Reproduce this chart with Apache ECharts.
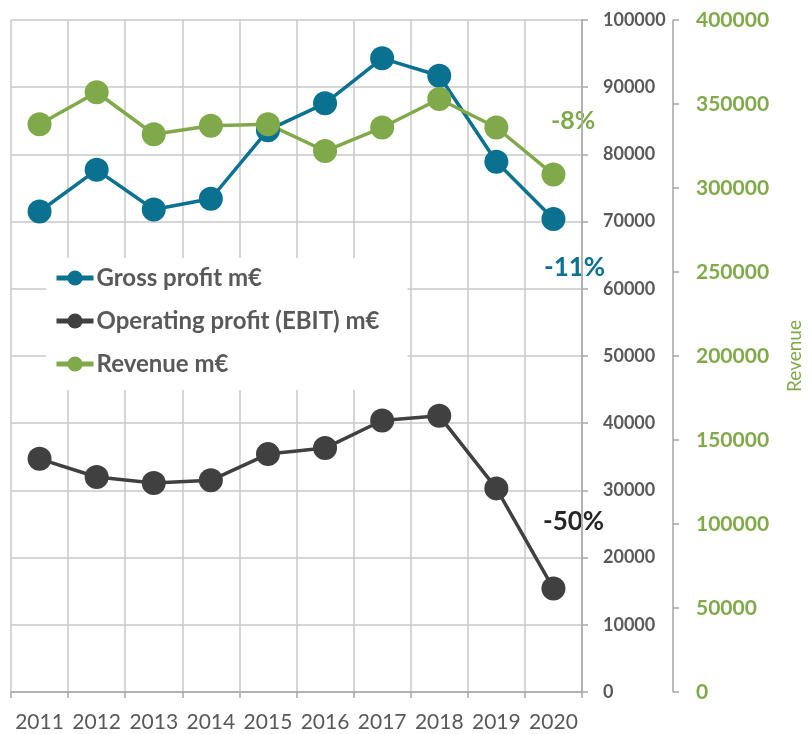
<!DOCTYPE html>
<html>
<head>
<meta charset="utf-8">
<script src="https://cdn.jsdelivr.net/npm/echarts@6/dist/echarts.min.js"></script>
<style>
  html, body { margin: 0; padding: 0; background: #fff; }
  #chart { width: 812px; height: 734px; }
</style>
</head>
<body>
<div id="chart"></div>
<script>
// categories
const years = ['2011', '2012', '2013', '2014', '2015', '2016', '2017', '2018', '2019', '2020']

// series values (m€)
const grossProfit = [71500, 77700, 71800, 73400, 83600, 87600, 94300, 91700, 78900, 70400]
const ebit = [34700, 32000, 31100, 31500, 35400, 36300, 40400, 41100, 30300, 15400]
const revenue = [338000, 357000, 332000, 337000, 338000, 322000, 336000, 353000, 336000, 308000]

// change annotations
const changeLabels = ['-8%', '-11%', '-50%']

const blue = '#0a7290'
const dark = '#404040'
const green = '#80a94a'
const font = 'Lato'

const chart = echarts.init(document.getElementById('chart'))

const lineSeries = (name, data, color, axis) => ({
    name: name,
    type: 'line',
    yAxisIndex: axis,
    data: data,
    symbol: 'circle',
    symbolSize: 24,
    lineStyle: { width: 3.5, color: color },
    itemStyle: { color: color },
    emphasis: { disabled: true }
})

const plain = v => String(v)

const option = {
    animation: false,
    grid: { left: 11, right: 226, top: 20, bottom: 42 },
    legend: {
        left: 46,
        top: 258,
        orient: 'vertical',
        backgroundColor: '#fff',
        padding: [8, 28, 14, 8],
        itemWidth: 37,
        itemHeight: 19,
        itemGap: 19,
        lineStyle: { width: 5 },
        textStyle: { fontFamily: font, fontWeight: 'bold', fontSize: 24, color: '#595959', padding: [0, 0, 0, -2] },
        data: ['Gross profit m€', 'Operating profit (EBIT) m€', 'Revenue m€']
    },
    xAxis: {
        type: 'category',
        data: years,
        boundaryGap: true,
        axisLine: { lineStyle: { color: '#a6a6a6', width: 1.5 } },
        axisTick: { show: true, interval: 0, length: 6, lineStyle: { color: '#a6a6a6', width: 1.5 } },
        axisLabel: { interval: 0, margin: 20, fontFamily: font, fontSize: 21, color: '#595959' },
        splitLine: { show: true, interval: 0, lineStyle: { color: '#c8c8c8', width: 1.5 } }
    },
    yAxis: [
        {
            type: 'value',
            position: 'right',
            min: 0,
            max: 100000,
            interval: 10000,
            axisLine: { show: true, lineStyle: { color: '#a6a6a6', width: 1.5 } },
            axisTick: { show: true, length: 6, lineStyle: { color: '#a6a6a6', width: 1.5 } },
            axisLabel: { margin: 21, formatter: plain, fontFamily: font, fontWeight: 'bold', fontSize: 18, color: '#595959' },
            splitLine: { show: true, lineStyle: { color: '#c8c8c8', width: 1.5 } }
        },
        {
            type: 'value',
            position: 'right',
            offset: 91,
            min: 0,
            max: 400000,
            interval: 50000,
            name: 'Revenue',
            nameLocation: 'middle',
            nameRotate: 90,
            nameGap: 112,
            nameTextStyle: { fontFamily: font, fontSize: 19, color: green },
            axisLine: { show: true, lineStyle: { color: '#a6a6a6', width: 1.5 } },
            axisTick: { show: true, length: 6, lineStyle: { color: '#a6a6a6', width: 1.5 } },
            axisLabel: { margin: 23, formatter: plain, fontFamily: font, fontWeight: 'bold', fontSize: 21, color: green },
            splitLine: { show: false }
        }
    ],
    series: [
        lineSeries('Gross profit m€', grossProfit, blue, 0),
        lineSeries('Operating profit (EBIT) m€', ebit, dark, 0),
        lineSeries('Revenue m€', revenue, green, 1)
    ],
    graphic: [
        { type: 'text', left: 551, top: 108, style: { text: changeLabels[0], fill: green, font: 'bold 25px Lato' } },
        { type: 'text', left: 544, top: 255, style: { text: changeLabels[1], fill: blue, font: 'bold 26px Lato' } },
        { type: 'text', left: 543, top: 509, style: { text: changeLabels[2], fill: '#262626', font: 'bold 26px Lato' } }
    ]
}

chart.setOption(option)
</script>
</body>
</html>
